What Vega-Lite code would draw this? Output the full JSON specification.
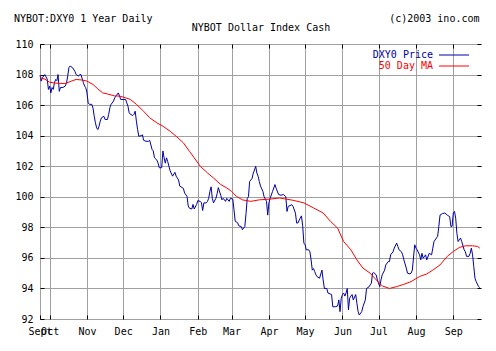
{
  "$schema": "https://vega.github.io/schema/vega-lite/v6.json",
  "width": 441,
  "height": 275,
  "autosize": {"type": "none"},
  "padding": {"left": 40, "top": 44, "right": 15, "bottom": 32},
  "background": "white",
  "title": {"text": "NYBOT:DXY0 1 Year Daily", "anchor": "start", "frame": "group", "dx": -26, "dy": 21, "offset": 2, "baseline": "alphabetic", "font": "DejaVu Sans Mono", "fontSize": 10, "fontWeight": "normal", "color": "black"},
  "config": {"view": {"stroke": null}, "font": "DejaVu Sans Mono"},
  "data": {"values": [
    {"date":"2002-09-23","value":107.95,"series":"DXY0 Price"},
    {"date":"2002-09-24","value":107.57,"series":"DXY0 Price"},
    {"date":"2002-09-25","value":107.8,"series":"DXY0 Price"},
    {"date":"2002-09-27","value":108.0,"series":"DXY0 Price"},
    {"date":"2002-09-29","value":107.7,"series":"DXY0 Price"},
    {"date":"2002-09-30","value":107.03,"series":"DXY0 Price"},
    {"date":"2002-10-01","value":107.25,"series":"DXY0 Price"},
    {"date":"2002-10-02","value":106.8,"series":"DXY0 Price"},
    {"date":"2002-10-03","value":107.15,"series":"DXY0 Price"},
    {"date":"2002-10-04","value":107.03,"series":"DXY0 Price"},
    {"date":"2002-10-05","value":107.46,"series":"DXY0 Price"},
    {"date":"2002-10-06","value":107.68,"series":"DXY0 Price"},
    {"date":"2002-10-07","value":107.6,"series":"DXY0 Price"},
    {"date":"2002-10-08","value":108.0,"series":"DXY0 Price"},
    {"date":"2002-10-09","value":106.9,"series":"DXY0 Price"},
    {"date":"2002-10-10","value":107.15,"series":"DXY0 Price"},
    {"date":"2002-10-12","value":107.15,"series":"DXY0 Price"},
    {"date":"2002-10-14","value":107.25,"series":"DXY0 Price"},
    {"date":"2002-10-15","value":107.46,"series":"DXY0 Price"},
    {"date":"2002-10-16","value":107.9,"series":"DXY0 Price"},
    {"date":"2002-10-17","value":108.45,"series":"DXY0 Price"},
    {"date":"2002-10-18","value":108.56,"series":"DXY0 Price"},
    {"date":"2002-10-20","value":108.45,"series":"DXY0 Price"},
    {"date":"2002-10-22","value":108.2,"series":"DXY0 Price"},
    {"date":"2002-10-23","value":108.0,"series":"DXY0 Price"},
    {"date":"2002-10-25","value":107.9,"series":"DXY0 Price"},
    {"date":"2002-10-26","value":108.0,"series":"DXY0 Price"},
    {"date":"2002-10-27","value":108.0,"series":"DXY0 Price"},
    {"date":"2002-10-29","value":107.47,"series":"DXY0 Price"},
    {"date":"2002-10-30","value":107.25,"series":"DXY0 Price"},
    {"date":"2002-10-31","value":107.14,"series":"DXY0 Price"},
    {"date":"2002-11-01","value":106.8,"series":"DXY0 Price"},
    {"date":"2002-11-02","value":106.15,"series":"DXY0 Price"},
    {"date":"2002-11-03","value":106.05,"series":"DXY0 Price"},
    {"date":"2002-11-05","value":106.05,"series":"DXY0 Price"},
    {"date":"2002-11-06","value":105.8,"series":"DXY0 Price"},
    {"date":"2002-11-07","value":105.27,"series":"DXY0 Price"},
    {"date":"2002-11-08","value":104.84,"series":"DXY0 Price"},
    {"date":"2002-11-09","value":104.51,"series":"DXY0 Price"},
    {"date":"2002-11-10","value":104.4,"series":"DXY0 Price"},
    {"date":"2002-11-11","value":104.62,"series":"DXY0 Price"},
    {"date":"2002-11-12","value":104.95,"series":"DXY0 Price"},
    {"date":"2002-11-13","value":105.17,"series":"DXY0 Price"},
    {"date":"2002-11-15","value":105.27,"series":"DXY0 Price"},
    {"date":"2002-11-16","value":105.06,"series":"DXY0 Price"},
    {"date":"2002-11-18","value":105.06,"series":"DXY0 Price"},
    {"date":"2002-11-19","value":105.4,"series":"DXY0 Price"},
    {"date":"2002-11-20","value":105.83,"series":"DXY0 Price"},
    {"date":"2002-11-21","value":106.05,"series":"DXY0 Price"},
    {"date":"2002-11-23","value":106.26,"series":"DXY0 Price"},
    {"date":"2002-11-24","value":106.48,"series":"DXY0 Price"},
    {"date":"2002-11-25","value":106.59,"series":"DXY0 Price"},
    {"date":"2002-11-27","value":106.8,"series":"DXY0 Price"},
    {"date":"2002-11-28","value":106.6,"series":"DXY0 Price"},
    {"date":"2002-11-29","value":106.37,"series":"DXY0 Price"},
    {"date":"2002-12-01","value":106.37,"series":"DXY0 Price"},
    {"date":"2002-12-03","value":106.37,"series":"DXY0 Price"},
    {"date":"2002-12-04","value":106.15,"series":"DXY0 Price"},
    {"date":"2002-12-05","value":105.93,"series":"DXY0 Price"},
    {"date":"2002-12-06","value":105.5,"series":"DXY0 Price"},
    {"date":"2002-12-07","value":105.4,"series":"DXY0 Price"},
    {"date":"2002-12-09","value":105.32,"series":"DXY0 Price"},
    {"date":"2002-12-10","value":105.4,"series":"DXY0 Price"},
    {"date":"2002-12-11","value":105.6,"series":"DXY0 Price"},
    {"date":"2002-12-12","value":104.95,"series":"DXY0 Price"},
    {"date":"2002-12-13","value":104.4,"series":"DXY0 Price"},
    {"date":"2002-12-14","value":103.96,"series":"DXY0 Price"},
    {"date":"2002-12-16","value":104.0,"series":"DXY0 Price"},
    {"date":"2002-12-17","value":104.06,"series":"DXY0 Price"},
    {"date":"2002-12-18","value":103.7,"series":"DXY0 Price"},
    {"date":"2002-12-20","value":103.63,"series":"DXY0 Price"},
    {"date":"2002-12-22","value":103.63,"series":"DXY0 Price"},
    {"date":"2002-12-23","value":103.7,"series":"DXY0 Price"},
    {"date":"2002-12-25","value":103.1,"series":"DXY0 Price"},
    {"date":"2002-12-26","value":103.0,"series":"DXY0 Price"},
    {"date":"2002-12-27","value":102.55,"series":"DXY0 Price"},
    {"date":"2002-12-29","value":102.4,"series":"DXY0 Price"},
    {"date":"2002-12-30","value":102.2,"series":"DXY0 Price"},
    {"date":"2002-12-31","value":101.9,"series":"DXY0 Price"},
    {"date":"2003-01-02","value":101.9,"series":"DXY0 Price"},
    {"date":"2003-01-03","value":103.0,"series":"DXY0 Price"},
    {"date":"2003-01-04","value":102.55,"series":"DXY0 Price"},
    {"date":"2003-01-05","value":102.2,"series":"DXY0 Price"},
    {"date":"2003-01-06","value":102.55,"series":"DXY0 Price"},
    {"date":"2003-01-07","value":102.3,"series":"DXY0 Price"},
    {"date":"2003-01-08","value":102.0,"series":"DXY0 Price"},
    {"date":"2003-01-09","value":101.7,"series":"DXY0 Price"},
    {"date":"2003-01-11","value":101.35,"series":"DXY0 Price"},
    {"date":"2003-01-13","value":101.6,"series":"DXY0 Price"},
    {"date":"2003-01-14","value":101.35,"series":"DXY0 Price"},
    {"date":"2003-01-16","value":101.1,"series":"DXY0 Price"},
    {"date":"2003-01-17","value":100.7,"series":"DXY0 Price"},
    {"date":"2003-01-20","value":100.55,"series":"DXY0 Price"},
    {"date":"2003-01-21","value":100.25,"series":"DXY0 Price"},
    {"date":"2003-01-23","value":100.03,"series":"DXY0 Price"},
    {"date":"2003-01-24","value":99.4,"series":"DXY0 Price"},
    {"date":"2003-01-25","value":99.25,"series":"DXY0 Price"},
    {"date":"2003-01-27","value":99.2,"series":"DXY0 Price"},
    {"date":"2003-01-28","value":99.5,"series":"DXY0 Price"},
    {"date":"2003-01-29","value":99.2,"series":"DXY0 Price"},
    {"date":"2003-01-31","value":99.5,"series":"DXY0 Price"},
    {"date":"2003-02-01","value":99.75,"series":"DXY0 Price"},
    {"date":"2003-02-03","value":99.7,"series":"DXY0 Price"},
    {"date":"2003-02-04","value":99.6,"series":"DXY0 Price"},
    {"date":"2003-02-05","value":99.1,"series":"DXY0 Price"},
    {"date":"2003-02-06","value":99.6,"series":"DXY0 Price"},
    {"date":"2003-02-08","value":99.6,"series":"DXY0 Price"},
    {"date":"2003-02-09","value":99.7,"series":"DXY0 Price"},
    {"date":"2003-02-10","value":99.9,"series":"DXY0 Price"},
    {"date":"2003-02-11","value":100.35,"series":"DXY0 Price"},
    {"date":"2003-02-12","value":100.65,"series":"DXY0 Price"},
    {"date":"2003-02-13","value":99.9,"series":"DXY0 Price"},
    {"date":"2003-02-14","value":99.6,"series":"DXY0 Price"},
    {"date":"2003-02-16","value":99.9,"series":"DXY0 Price"},
    {"date":"2003-02-17","value":100.2,"series":"DXY0 Price"},
    {"date":"2003-02-18","value":100.6,"series":"DXY0 Price"},
    {"date":"2003-02-20","value":100.1,"series":"DXY0 Price"},
    {"date":"2003-02-21","value":99.8,"series":"DXY0 Price"},
    {"date":"2003-02-22","value":99.9,"series":"DXY0 Price"},
    {"date":"2003-02-24","value":99.7,"series":"DXY0 Price"},
    {"date":"2003-02-25","value":99.9,"series":"DXY0 Price"},
    {"date":"2003-02-27","value":99.7,"series":"DXY0 Price"},
    {"date":"2003-02-28","value":99.9,"series":"DXY0 Price"},
    {"date":"2003-03-02","value":99.85,"series":"DXY0 Price"},
    {"date":"2003-03-03","value":99.15,"series":"DXY0 Price"},
    {"date":"2003-03-04","value":98.4,"series":"DXY0 Price"},
    {"date":"2003-03-06","value":98.3,"series":"DXY0 Price"},
    {"date":"2003-03-07","value":98.1,"series":"DXY0 Price"},
    {"date":"2003-03-09","value":98.05,"series":"DXY0 Price"},
    {"date":"2003-03-10","value":97.85,"series":"DXY0 Price"},
    {"date":"2003-03-12","value":98.05,"series":"DXY0 Price"},
    {"date":"2003-03-13","value":98.9,"series":"DXY0 Price"},
    {"date":"2003-03-14","value":99.9,"series":"DXY0 Price"},
    {"date":"2003-03-15","value":100.0,"series":"DXY0 Price"},
    {"date":"2003-03-16","value":101.0,"series":"DXY0 Price"},
    {"date":"2003-03-18","value":101.2,"series":"DXY0 Price"},
    {"date":"2003-03-19","value":101.55,"series":"DXY0 Price"},
    {"date":"2003-03-20","value":101.75,"series":"DXY0 Price"},
    {"date":"2003-03-21","value":102.0,"series":"DXY0 Price"},
    {"date":"2003-03-22","value":101.55,"series":"DXY0 Price"},
    {"date":"2003-03-23","value":101.35,"series":"DXY0 Price"},
    {"date":"2003-03-24","value":101.0,"series":"DXY0 Price"},
    {"date":"2003-03-25","value":100.7,"series":"DXY0 Price"},
    {"date":"2003-03-27","value":100.35,"series":"DXY0 Price"},
    {"date":"2003-03-28","value":100.0,"series":"DXY0 Price"},
    {"date":"2003-03-30","value":99.7,"series":"DXY0 Price"},
    {"date":"2003-03-31","value":98.8,"series":"DXY0 Price"},
    {"date":"2003-04-01","value":99.6,"series":"DXY0 Price"},
    {"date":"2003-04-02","value":99.9,"series":"DXY0 Price"},
    {"date":"2003-04-04","value":100.35,"series":"DXY0 Price"},
    {"date":"2003-04-06","value":100.8,"series":"DXY0 Price"},
    {"date":"2003-04-07","value":100.55,"series":"DXY0 Price"},
    {"date":"2003-04-09","value":100.15,"series":"DXY0 Price"},
    {"date":"2003-04-11","value":100.1,"series":"DXY0 Price"},
    {"date":"2003-04-13","value":100.15,"series":"DXY0 Price"},
    {"date":"2003-04-15","value":100.0,"series":"DXY0 Price"},
    {"date":"2003-04-16","value":99.04,"series":"DXY0 Price"},
    {"date":"2003-04-17","value":99.37,"series":"DXY0 Price"},
    {"date":"2003-04-20","value":99.48,"series":"DXY0 Price"},
    {"date":"2003-04-21","value":99.37,"series":"DXY0 Price"},
    {"date":"2003-04-23","value":98.93,"series":"DXY0 Price"},
    {"date":"2003-04-24","value":98.28,"series":"DXY0 Price"},
    {"date":"2003-04-25","value":98.28,"series":"DXY0 Price"},
    {"date":"2003-04-27","value":98.6,"series":"DXY0 Price"},
    {"date":"2003-04-28","value":98.75,"series":"DXY0 Price"},
    {"date":"2003-04-29","value":98.1,"series":"DXY0 Price"},
    {"date":"2003-04-30","value":96.97,"series":"DXY0 Price"},
    {"date":"2003-05-01","value":96.86,"series":"DXY0 Price"},
    {"date":"2003-05-02","value":96.53,"series":"DXY0 Price"},
    {"date":"2003-05-04","value":96.53,"series":"DXY0 Price"},
    {"date":"2003-05-05","value":96.4,"series":"DXY0 Price"},
    {"date":"2003-05-06","value":95.87,"series":"DXY0 Price"},
    {"date":"2003-05-07","value":95.2,"series":"DXY0 Price"},
    {"date":"2003-05-08","value":95.3,"series":"DXY0 Price"},
    {"date":"2003-05-09","value":95.1,"series":"DXY0 Price"},
    {"date":"2003-05-10","value":94.89,"series":"DXY0 Price"},
    {"date":"2003-05-11","value":94.77,"series":"DXY0 Price"},
    {"date":"2003-05-13","value":94.67,"series":"DXY0 Price"},
    {"date":"2003-05-15","value":95.2,"series":"DXY0 Price"},
    {"date":"2003-05-16","value":94.56,"series":"DXY0 Price"},
    {"date":"2003-05-17","value":94.0,"series":"DXY0 Price"},
    {"date":"2003-05-19","value":94.0,"series":"DXY0 Price"},
    {"date":"2003-05-20","value":93.7,"series":"DXY0 Price"},
    {"date":"2003-05-23","value":93.6,"series":"DXY0 Price"},
    {"date":"2003-05-24","value":92.8,"series":"DXY0 Price"},
    {"date":"2003-05-26","value":92.8,"series":"DXY0 Price"},
    {"date":"2003-05-28","value":92.85,"series":"DXY0 Price"},
    {"date":"2003-05-29","value":93.25,"series":"DXY0 Price"},
    {"date":"2003-05-30","value":92.48,"series":"DXY0 Price"},
    {"date":"2003-05-31","value":93.36,"series":"DXY0 Price"},
    {"date":"2003-06-01","value":93.6,"series":"DXY0 Price"},
    {"date":"2003-06-02","value":93.7,"series":"DXY0 Price"},
    {"date":"2003-06-03","value":93.5,"series":"DXY0 Price"},
    {"date":"2003-06-04","value":93.7,"series":"DXY0 Price"},
    {"date":"2003-06-05","value":94.0,"series":"DXY0 Price"},
    {"date":"2003-06-06","value":92.6,"series":"DXY0 Price"},
    {"date":"2003-06-07","value":93.36,"series":"DXY0 Price"},
    {"date":"2003-06-08","value":93.5,"series":"DXY0 Price"},
    {"date":"2003-06-09","value":93.6,"series":"DXY0 Price"},
    {"date":"2003-06-10","value":93.25,"series":"DXY0 Price"},
    {"date":"2003-06-12","value":93.6,"series":"DXY0 Price"},
    {"date":"2003-06-13","value":93.03,"series":"DXY0 Price"},
    {"date":"2003-06-14","value":92.48,"series":"DXY0 Price"},
    {"date":"2003-06-15","value":92.26,"series":"DXY0 Price"},
    {"date":"2003-06-17","value":92.48,"series":"DXY0 Price"},
    {"date":"2003-06-18","value":92.8,"series":"DXY0 Price"},
    {"date":"2003-06-20","value":93.25,"series":"DXY0 Price"},
    {"date":"2003-06-21","value":94.0,"series":"DXY0 Price"},
    {"date":"2003-06-23","value":94.1,"series":"DXY0 Price"},
    {"date":"2003-06-24","value":94.23,"series":"DXY0 Price"},
    {"date":"2003-06-25","value":94.34,"series":"DXY0 Price"},
    {"date":"2003-06-26","value":95.0,"series":"DXY0 Price"},
    {"date":"2003-06-27","value":95.04,"series":"DXY0 Price"},
    {"date":"2003-06-29","value":94.89,"series":"DXY0 Price"},
    {"date":"2003-06-30","value":94.56,"series":"DXY0 Price"},
    {"date":"2003-07-02","value":94.12,"series":"DXY0 Price"},
    {"date":"2003-07-03","value":94.56,"series":"DXY0 Price"},
    {"date":"2003-07-04","value":94.89,"series":"DXY0 Price"},
    {"date":"2003-07-06","value":95.2,"series":"DXY0 Price"},
    {"date":"2003-07-07","value":95.54,"series":"DXY0 Price"},
    {"date":"2003-07-09","value":95.76,"series":"DXY0 Price"},
    {"date":"2003-07-10","value":95.76,"series":"DXY0 Price"},
    {"date":"2003-07-11","value":96.2,"series":"DXY0 Price"},
    {"date":"2003-07-13","value":96.4,"series":"DXY0 Price"},
    {"date":"2003-07-14","value":96.64,"series":"DXY0 Price"},
    {"date":"2003-07-16","value":96.97,"series":"DXY0 Price"},
    {"date":"2003-07-17","value":96.75,"series":"DXY0 Price"},
    {"date":"2003-07-18","value":96.53,"series":"DXY0 Price"},
    {"date":"2003-07-20","value":96.4,"series":"DXY0 Price"},
    {"date":"2003-07-21","value":96.2,"series":"DXY0 Price"},
    {"date":"2003-07-22","value":95.87,"series":"DXY0 Price"},
    {"date":"2003-07-24","value":95.33,"series":"DXY0 Price"},
    {"date":"2003-07-25","value":95.0,"series":"DXY0 Price"},
    {"date":"2003-07-27","value":94.95,"series":"DXY0 Price"},
    {"date":"2003-07-28","value":95.0,"series":"DXY0 Price"},
    {"date":"2003-07-29","value":95.2,"series":"DXY0 Price"},
    {"date":"2003-07-31","value":96.86,"series":"DXY0 Price"},
    {"date":"2003-08-01","value":96.64,"series":"DXY0 Price"},
    {"date":"2003-08-02","value":96.53,"series":"DXY0 Price"},
    {"date":"2003-08-04","value":96.2,"series":"DXY0 Price"},
    {"date":"2003-08-05","value":95.87,"series":"DXY0 Price"},
    {"date":"2003-08-06","value":96.3,"series":"DXY0 Price"},
    {"date":"2003-08-07","value":95.98,"series":"DXY0 Price"},
    {"date":"2003-08-09","value":96.2,"series":"DXY0 Price"},
    {"date":"2003-08-10","value":95.87,"series":"DXY0 Price"},
    {"date":"2003-08-12","value":96.3,"series":"DXY0 Price"},
    {"date":"2003-08-14","value":96.2,"series":"DXY0 Price"},
    {"date":"2003-08-15","value":96.64,"series":"DXY0 Price"},
    {"date":"2003-08-16","value":97.07,"series":"DXY0 Price"},
    {"date":"2003-08-18","value":97.3,"series":"DXY0 Price"},
    {"date":"2003-08-19","value":97.4,"series":"DXY0 Price"},
    {"date":"2003-08-20","value":98.06,"series":"DXY0 Price"},
    {"date":"2003-08-21","value":98.8,"series":"DXY0 Price"},
    {"date":"2003-08-23","value":98.9,"series":"DXY0 Price"},
    {"date":"2003-08-25","value":98.94,"series":"DXY0 Price"},
    {"date":"2003-08-27","value":98.8,"series":"DXY0 Price"},
    {"date":"2003-08-29","value":98.7,"series":"DXY0 Price"},
    {"date":"2003-08-30","value":98.06,"series":"DXY0 Price"},
    {"date":"2003-08-31","value":98.06,"series":"DXY0 Price"},
    {"date":"2003-09-01","value":98.94,"series":"DXY0 Price"},
    {"date":"2003-09-02","value":99.04,"series":"DXY0 Price"},
    {"date":"2003-09-03","value":98.6,"series":"DXY0 Price"},
    {"date":"2003-09-04","value":97.6,"series":"DXY0 Price"},
    {"date":"2003-09-05","value":97.07,"series":"DXY0 Price"},
    {"date":"2003-09-06","value":97.18,"series":"DXY0 Price"},
    {"date":"2003-09-07","value":97.3,"series":"DXY0 Price"},
    {"date":"2003-09-08","value":97.07,"series":"DXY0 Price"},
    {"date":"2003-09-10","value":96.53,"series":"DXY0 Price"},
    {"date":"2003-09-11","value":96.4,"series":"DXY0 Price"},
    {"date":"2003-09-12","value":96.1,"series":"DXY0 Price"},
    {"date":"2003-09-14","value":96.1,"series":"DXY0 Price"},
    {"date":"2003-09-15","value":96.3,"series":"DXY0 Price"},
    {"date":"2003-09-16","value":96.64,"series":"DXY0 Price"},
    {"date":"2003-09-17","value":96.2,"series":"DXY0 Price"},
    {"date":"2003-09-18","value":95.43,"series":"DXY0 Price"},
    {"date":"2003-09-19","value":94.67,"series":"DXY0 Price"},
    {"date":"2003-09-20","value":94.45,"series":"DXY0 Price"},
    {"date":"2003-09-22","value":94.12,"series":"DXY0 Price"},
    {"date":"2003-09-23","value":94.05,"series":"DXY0 Price"},
    {"date":"2002-09-23","value":107.8,"series":"50 Day MA"},
    {"date":"2002-09-27","value":107.7,"series":"50 Day MA"},
    {"date":"2002-10-01","value":107.5,"series":"50 Day MA"},
    {"date":"2002-10-04","value":107.46,"series":"50 Day MA"},
    {"date":"2002-10-09","value":107.42,"series":"50 Day MA"},
    {"date":"2002-10-14","value":107.42,"series":"50 Day MA"},
    {"date":"2002-10-19","value":107.57,"series":"50 Day MA"},
    {"date":"2002-10-23","value":107.68,"series":"50 Day MA"},
    {"date":"2002-10-28","value":107.64,"series":"50 Day MA"},
    {"date":"2002-11-01","value":107.57,"series":"50 Day MA"},
    {"date":"2002-11-06","value":107.35,"series":"50 Day MA"},
    {"date":"2002-11-10","value":107.06,"series":"50 Day MA"},
    {"date":"2002-11-14","value":106.8,"series":"50 Day MA"},
    {"date":"2002-11-18","value":106.73,"series":"50 Day MA"},
    {"date":"2002-11-24","value":106.6,"series":"50 Day MA"},
    {"date":"2002-11-28","value":106.59,"series":"50 Day MA"},
    {"date":"2002-12-03","value":106.48,"series":"50 Day MA"},
    {"date":"2002-12-07","value":106.37,"series":"50 Day MA"},
    {"date":"2002-12-12","value":106.05,"series":"50 Day MA"},
    {"date":"2002-12-18","value":105.6,"series":"50 Day MA"},
    {"date":"2002-12-23","value":105.17,"series":"50 Day MA"},
    {"date":"2002-12-29","value":104.84,"series":"50 Day MA"},
    {"date":"2003-01-03","value":104.62,"series":"50 Day MA"},
    {"date":"2003-01-09","value":104.29,"series":"50 Day MA"},
    {"date":"2003-01-14","value":103.96,"series":"50 Day MA"},
    {"date":"2003-01-20","value":103.53,"series":"50 Day MA"},
    {"date":"2003-01-25","value":102.98,"series":"50 Day MA"},
    {"date":"2003-01-29","value":102.55,"series":"50 Day MA"},
    {"date":"2003-02-03","value":102.0,"series":"50 Day MA"},
    {"date":"2003-02-09","value":101.56,"series":"50 Day MA"},
    {"date":"2003-02-14","value":101.23,"series":"50 Day MA"},
    {"date":"2003-02-20","value":100.8,"series":"50 Day MA"},
    {"date":"2003-02-25","value":100.58,"series":"50 Day MA"},
    {"date":"2003-03-01","value":100.35,"series":"50 Day MA"},
    {"date":"2003-03-05","value":100.03,"series":"50 Day MA"},
    {"date":"2003-03-10","value":99.8,"series":"50 Day MA"},
    {"date":"2003-03-17","value":99.7,"series":"50 Day MA"},
    {"date":"2003-03-24","value":99.8,"series":"50 Day MA"},
    {"date":"2003-04-02","value":99.85,"series":"50 Day MA"},
    {"date":"2003-04-10","value":99.92,"series":"50 Day MA"},
    {"date":"2003-04-21","value":99.77,"series":"50 Day MA"},
    {"date":"2003-04-30","value":99.6,"series":"50 Day MA"},
    {"date":"2003-05-08","value":99.27,"series":"50 Day MA"},
    {"date":"2003-05-16","value":98.94,"series":"50 Day MA"},
    {"date":"2003-05-22","value":98.4,"series":"50 Day MA"},
    {"date":"2003-05-28","value":97.95,"series":"50 Day MA"},
    {"date":"2003-06-02","value":97.07,"series":"50 Day MA"},
    {"date":"2003-06-08","value":96.53,"series":"50 Day MA"},
    {"date":"2003-06-13","value":95.87,"series":"50 Day MA"},
    {"date":"2003-06-18","value":95.33,"series":"50 Day MA"},
    {"date":"2003-06-24","value":95.0,"series":"50 Day MA"},
    {"date":"2003-06-29","value":94.56,"series":"50 Day MA"},
    {"date":"2003-07-04","value":94.17,"series":"50 Day MA"},
    {"date":"2003-07-10","value":94.0,"series":"50 Day MA"},
    {"date":"2003-07-16","value":94.12,"series":"50 Day MA"},
    {"date":"2003-07-22","value":94.27,"series":"50 Day MA"},
    {"date":"2003-07-28","value":94.45,"series":"50 Day MA"},
    {"date":"2003-08-04","value":94.78,"series":"50 Day MA"},
    {"date":"2003-08-10","value":94.95,"series":"50 Day MA"},
    {"date":"2003-08-15","value":95.2,"series":"50 Day MA"},
    {"date":"2003-08-21","value":95.54,"series":"50 Day MA"},
    {"date":"2003-08-27","value":96.1,"series":"50 Day MA"},
    {"date":"2003-09-01","value":96.42,"series":"50 Day MA"},
    {"date":"2003-09-06","value":96.68,"series":"50 Day MA"},
    {"date":"2003-09-11","value":96.79,"series":"50 Day MA"},
    {"date":"2003-09-17","value":96.79,"series":"50 Day MA"},
    {"date":"2003-09-21","value":96.75,"series":"50 Day MA"},
    {"date":"2003-09-23","value":96.64,"series":"50 Day MA"}
  ]},
  "encoding": {
    "color": {
      "field": "series", "type": "nominal",
      "scale": {"domain": ["DXY0 Price", "50 Day MA"], "range": ["#0000a8", "#ff0000"]},
      "legend": {
        "orient": "none", "legendX": 409, "legendY": 6, "title": null, "padding": 0,
        "symbolType": "M-3,-0.1H3V0.1H-3Z", "symbolSize": 100, "symbolStrokeWidth": 0,
        "labelAlign": "right", "labelOffset": -26, "labelFont": "DejaVu Sans Mono", "labelFontSize": 10,
        "rowPadding": 1,
        "encode": {
          "labels": {"update": {"fill": {"scale": "color", "field": "value"}}},
          "symbols": {"update": {
            "fill": {"signal": "scale('color', datum.value)"},
            "stroke": {"signal": "scale('color', datum.value)"},
            "fillOpacity": {"value": 1}
          }}
        }
      }
    }
  },
  "layer": [
    {
      "transform": [{"filter": "datum.series === 'DXY0 Price'"}],
      "mark": {"type": "line", "strokeWidth": 1},
      "encoding": {
        "x": {
          "field": "date", "type": "temporal",
          "scale": {"domain": [{"year": 2002, "month": 9, "date": 23}, {"year": 2003, "month": 9, "date": 24}]},
          "axis": {
            "orient": "bottom", "title": null,
            "values": [{"year": 2002, "month": 9, "date": 23}, {"year": 2002, "month": 10, "date": 1}, {"year": 2002, "month": 11, "date": 1}, {"year": 2002, "month": 12, "date": 1}, {"year": 2003, "month": 1, "date": 1}, {"year": 2003, "month": 2, "date": 1}, {"year": 2003, "month": 3, "date": 1}, {"year": 2003, "month": 4, "date": 1}, {"year": 2003, "month": 5, "date": 1}, {"year": 2003, "month": 6, "date": 1}, {"year": 2003, "month": 7, "date": 1}, {"year": 2003, "month": 8, "date": 1}, {"year": 2003, "month": 9, "date": 1}],
            "labelExpr": "year(datum.value) == 2002 && month(datum.value) == 8 ? 'Sept' : timeFormat(datum.value, '%b')",
            "grid": true, "gridColor": "#a0a0a0", "gridWidth": 1, "domain": false,
            "ticks": true, "tickColor": "black", "tickSize": -4, "tickWidth": 1,
            "labelPadding": 11, "labelFont": "DejaVu Sans Mono", "labelFontSize": 10, "labelColor": "black",
            "labelOverlap": false, "labelFlush": false, "labelBound": false
          }
        },
        "y": {
          "field": "value", "type": "quantitative",
          "scale": {"domain": [92, 110], "nice": false, "zero": false},
          "axis": {
            "orient": "left", "title": null, "values": [92, 94, 96, 98, 100, 102, 104, 106, 108, 110],
            "grid": true, "gridColor": "#a0a0a0", "gridWidth": 1, "domain": false,
            "ticks": true, "tickColor": "black", "tickSize": -4, "tickWidth": 1,
            "labelPadding": 11, "labelFont": "DejaVu Sans Mono", "labelFontSize": 10, "labelColor": "black",
            "labelOverlap": false, "labelFlush": false, "labelBound": false
          }
        }
      }
    },
    {
      "transform": [{"filter": "datum.series === '50 Day MA'"}],
      "mark": {"type": "line", "strokeWidth": 1},
      "encoding": {
        "x": {
          "field": "date", "type": "temporal",
          "scale": {"domain": [{"year": 2002, "month": 9, "date": 23}, {"year": 2003, "month": 9, "date": 24}]},
          "axis": {
            "orient": "top", "labels": false, "grid": false, "domain": false,
            "values": [{"year": 2002, "month": 9, "date": 23}, {"year": 2002, "month": 10, "date": 1}, {"year": 2002, "month": 11, "date": 1}, {"year": 2002, "month": 12, "date": 1}, {"year": 2003, "month": 1, "date": 1}, {"year": 2003, "month": 2, "date": 1}, {"year": 2003, "month": 3, "date": 1}, {"year": 2003, "month": 4, "date": 1}, {"year": 2003, "month": 5, "date": 1}, {"year": 2003, "month": 6, "date": 1}, {"year": 2003, "month": 7, "date": 1}, {"year": 2003, "month": 8, "date": 1}, {"year": 2003, "month": 9, "date": 1}],
            "ticks": true, "tickColor": "black", "tickSize": -4, "tickWidth": 1,
            "title": "NYBOT Dollar Index Cash", "titleFont": "DejaVu Sans Mono", "titleFontSize": 10, "titleFontWeight": "normal", "titleColor": "black",
            "titleY": -14, "titleBaseline": "alphabetic"
          }
        },
        "y": {
          "field": "value", "type": "quantitative",
          "scale": {"domain": [92, 110], "nice": false, "zero": false},
          "axis": {
            "orient": "right", "labels": false, "grid": false, "domain": false,
            "values": [92, 94, 96, 98, 100, 102, 104, 106, 108, 110],
            "ticks": true, "tickColor": "black", "tickSize": -4, "tickWidth": 1,
            "title": "(c)2003 ino.com", "titleFont": "DejaVu Sans Mono", "titleFontSize": 10, "titleFontWeight": "normal", "titleColor": "black",
            "titleAngle": 0, "titleAlign": "right", "titleBaseline": "alphabetic", "titleX": -2, "titleY": -23
          }
        }
      }
    }
  ],
  "resolve": {"axis": {"x": "independent", "y": "independent"}}
}
